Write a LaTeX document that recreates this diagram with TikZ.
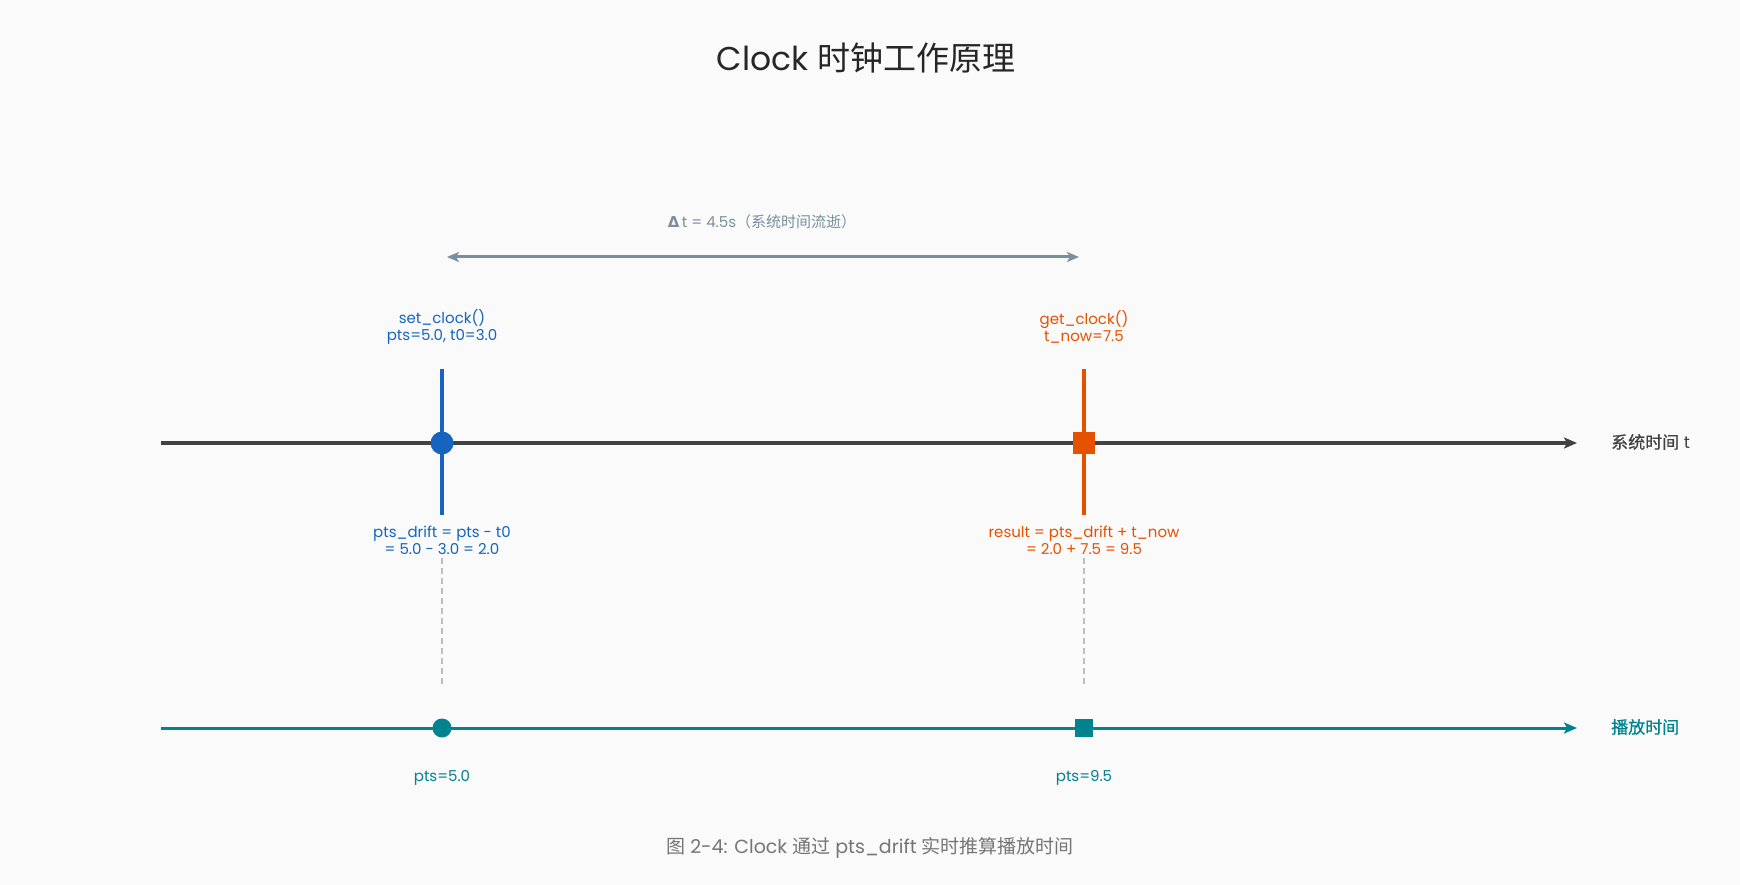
\documentclass[tikz,border=0pt]{standalone}
\usepackage{fontspec}
\setmainfont{Poppins}
\newfontfamily\cjk{Noto Sans CJK SC}
\newfontfamily\cjkmed[FakeBold=0.8]{Noto Sans CJK SC}
\newfontfamily\dejavu{DejaVu Sans}
\usetikzlibrary{arrows.meta}
\definecolor{bg}{HTML}{FAFAFA}
\definecolor{axisgray}{HTML}{424242}
\definecolor{setblue}{HTML}{1565C0}
\definecolor{getorange}{HTML}{E65100}
\definecolor{teal}{HTML}{00838F}
\definecolor{slate}{HTML}{78909C}
\definecolor{dashgray}{HTML}{BDBDBD}
\definecolor{capgray}{HTML}{757575}
\tikzset{
  lbl/.style={inner sep=0pt, align=center, font=\fontsize{15}{17}\selectfont},
  axisline/.style={line width=3.5pt, draw=axisgray, -{Stealth[length=13pt,width=11pt,inset=3pt]}},
  playline/.style={line width=3pt, draw=teal, -{Stealth[length=13pt,width=11pt,inset=3pt]}},
  tickline/.style={line width=4pt},
  guide/.style={draw=dashgray, line width=1.5pt, dash pattern=on 6pt off 4pt},
}
\begin{document}
\begin{tikzpicture}[x=1pt,y=-1pt]
\useasboundingbox (0,0) rectangle (1740,885);
\fill[bg] (0,0) rectangle (1740,885);

% title
\node[inner sep=0pt, font=\fontsize{33}{38}\selectfont, text=black!85] (title) at (866,58) {Clock \cjk 时钟工作原理};

% delta arrow
\coordinate (dL) at (447,257);
\coordinate (dR) at (1079,257);
\draw[draw=slate, line width=3pt, {Stealth[length=12pt,width=10pt,inset=3pt]}-{Stealth[length=12pt,width=10pt,inset=3pt]}] (dL) -- (dR);
\node[lbl, text=slate, font=\fontsize{15}{17}\selectfont] (dlabel) at (762,222) {{\dejavu\bfseries Δ}\,t = 4.5s{\cjk（系统时间流逝）}};

% system time axis
\coordinate (sysL) at (161,443);
\coordinate (sysR) at (1577,443);
\draw[axisline] (sysL) -- (sysR);
\node[lbl, text=axisgray, anchor=west, font=\fontsize{17}{19}\selectfont] (syslabel) at (1611,442) {{\cjkmed 系统时间} t};

% set_clock tick
\coordinate (setT) at (442,369);
\coordinate (setB) at (442,515);
\draw[tickline, draw=setblue] (setT) -- (setB);
\node[circle, fill=setblue, minimum size=23pt, inner sep=0pt] (setdot) at (442,443) {};
\node[lbl, text=setblue] (settop) at (442,327) {set\_clock()\\pts=5.0, t0=3.0};
\node[lbl, text=setblue] (setbot) at (442,540) {pts\_drift = pts - t0\\= 5.0 - 3.0 = 2.0};

% get_clock tick
\coordinate (getT) at (1084,369);
\coordinate (getB) at (1084,515);
\draw[tickline, draw=getorange] (getT) -- (getB);
\node[rectangle, fill=getorange, minimum size=22pt, inner sep=0pt] (getsq) at (1084,443) {};
\node[lbl, text=getorange] (gettop) at (1084,327) {get\_clock()\\t\_now=7.5};
\node[lbl, text=getorange] (getbot) at (1084,540) {result = pts\_drift + t\_now\\= 2.0 + 7.5 = 9.5};

% dashed guides
\coordinate (g1a) at (442,558);
\coordinate (g1b) at (442,686);
\coordinate (g2a) at (1084,558);
\coordinate (g2b) at (1084,686);
\draw[guide] (g1a) -- (g1b);
\draw[guide] (g2a) -- (g2b);

% playback axis
\coordinate (playL) at (161,728);
\coordinate (playR) at (1577,728);
\draw[playline] (playL) -- (playR);
\node[lbl, text=teal, anchor=west, font=\fontsize{17}{19}\selectfont\cjkmed] (playlabel) at (1611,727) {播放时间};
\node[circle, fill=teal, minimum size=19pt, inner sep=0pt] (pdot) at (442,728) {};
\node[rectangle, fill=teal, minimum size=18pt, inner sep=0pt] (psq) at (1084,728) {};
\node[lbl, text=teal] (p1) at (442,778) {pts=5.0};
\node[lbl, text=teal] (p2) at (1084,778) {pts=9.5};

% caption
\node[inner sep=0pt, text=capgray, font=\fontsize{19}{21}\selectfont] (caption) at (870,848) {{\cjk 图} 2-4: Clock {\cjk 通过} pts\_drift {\cjk 实时推算播放时间}};
\end{tikzpicture}
\end{document}
